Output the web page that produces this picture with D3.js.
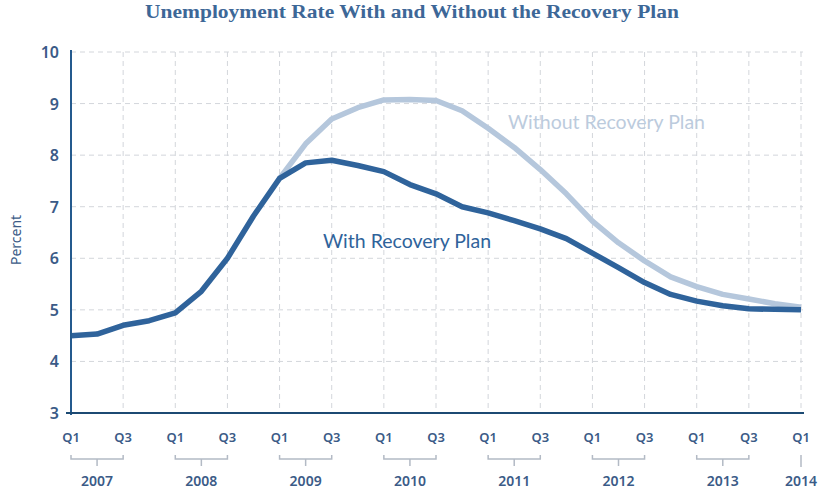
<!DOCTYPE html>
<html>
<head>
<meta charset="utf-8">
<script src="https://cdn.jsdelivr.net/npm/d3@7"></script>
<style>
  body { margin: 0; background: #fff; }
</style>
</head>
<body>
<div id="container-div"></div>
<script>
// quarters from 2007 Q1 to 2014 Q1
var quarters = ["2007Q1","2007Q2","2007Q3","2007Q4","2008Q1","2008Q2","2008Q3","2008Q4",
    "2009Q1","2009Q2","2009Q3","2009Q4","2010Q1","2010Q2","2010Q3","2010Q4",
    "2011Q1","2011Q2","2011Q3","2011Q4","2012Q1","2012Q2","2012Q3","2012Q4",
    "2013Q1","2013Q2","2013Q3","2013Q4","2014Q1"];

var withPlan = [4.5, 4.53, 4.7, 4.79, 4.94, 5.36, 6.0, 6.82,
    7.55, 7.85, 7.9, 7.8, 7.68, 7.43, 7.25, 7.0,
    6.88, 6.73, 6.57, 6.38, 6.1, 5.82, 5.53, 5.3,
    5.17, 5.08, 5.02, 5.01, 5.0];

// starts where the two lines split
var withoutPlan = [null, null, null, null, null, null, null, null,
    7.55, 8.22, 8.7, 8.92, 9.07, 9.08, 9.06, 8.86,
    8.52, 8.15, 7.72, 7.25, 6.72, 6.3, 5.95, 5.64,
    5.45, 5.3, 5.21, 5.12, 5.05];

var yTicks = [3, 4, 5, 6, 7, 8, 9, 10];
var years = ["2007", "2008", "2009", "2010", "2011", "2012", "2013", "2014"];

var darkBlue = "#2f639b";
var lightBlue = "#b5c7dc";
var labelColor = "#3b5b87";

var viz = d3.select("#container-div").append("svg")
    .attr("width", 823)
    .attr("height", 500)
    .attr("id", "viz");

var x = d3.scaleLinear().domain([0, quarters.length - 1]).range([71, 801]);
var y = d3.scaleLinear().domain([3, 10]).range([413, 52]);

// title
viz.append("text")
    .attr("x", 412)
    .attr("y", 18)
    .attr("text-anchor", "middle")
    .attr("font-family", "Liberation Serif, serif")
    .attr("font-weight", "bold")
    .attr("font-size", 19)
    .attr("textLength", 534)
    .attr("lengthAdjust", "spacingAndGlyphs")
    .attr("fill", "#3d6797")
    .text("Unemployment Rate With and Without the Recovery Plan");

// horizontal grid
viz.selectAll("hgrid").data(yTicks.slice(1)).enter()
    .append("line")
    .attr("x1", 71)
    .attr("x2", 803)
    .attr("y1", y)
    .attr("y2", y)
    .attr("stroke", "#d3d6db")
    .attr("stroke-dasharray", "5,4");

// vertical grid, every other quarter
var gridIdx = d3.range(2, quarters.length, 2);
viz.selectAll("vgrid").data(gridIdx).enter()
    .append("line")
    .attr("x1", x)
    .attr("x2", x)
    .attr("y1", 52)
    .attr("y2", 413)
    .attr("stroke", "#d3d6db")
    .attr("stroke-dasharray", "5,4");

// y labels
viz.selectAll("ylab").data(yTicks).enter()
    .append("text")
    .attr("x", 59)
    .attr("y", function(d) { return y(d) + 6; })
    .attr("text-anchor", "end")
    .attr("font-family", "Noto Sans, sans-serif")
    .attr("font-weight", 600)
    .attr("font-size", 16)
    .attr("fill", labelColor)
    .text(function(d) { return d; });

viz.append("text")
    .attr("transform", "translate(21,240) rotate(-90)")
    .attr("text-anchor", "middle")
    .attr("font-family", "Noto Sans, sans-serif")
    .attr("font-size", 14)
    .attr("fill", labelColor)
    .text("Percent");

// lines
var line = d3.line()
    .defined(function(d) { return d != null; })
    .x(function(d, i) { return x(i); })
    .y(function(d) { return y(d); });

viz.append("path")
    .datum(withoutPlan)
    .attr("d", line)
    .attr("fill", "none")
    .attr("stroke", lightBlue)
    .attr("stroke-width", 5.5)
    .attr("stroke-linejoin", "round");

viz.append("path")
    .datum(withPlan)
    .attr("d", line)
    .attr("fill", "none")
    .attr("stroke", darkBlue)
    .attr("stroke-width", 5.5)
    .attr("stroke-linejoin", "round");

// axes
viz.append("line")
    .attr("x1", 71).attr("x2", 71)
    .attr("y1", 50).attr("y2", 415)
    .attr("stroke", "#245a8e")
    .attr("stroke-width", 2);
viz.append("line")
    .attr("x1", 66).attr("x2", 804)
    .attr("y1", 413).attr("y2", 413)
    .attr("stroke", "#1c4a73")
    .attr("stroke-width", 2);

// quarter labels
viz.selectAll("qlab").data(d3.range(0, quarters.length, 2)).enter()
    .append("text")
    .attr("x", x)
    .attr("y", 442)
    .attr("text-anchor", "middle")
    .attr("font-family", "Noto Sans, sans-serif")
    .attr("font-weight", 600)
    .attr("font-size", 13)
    .attr("fill", labelColor)
    .text(function(i) { return quarters[i].slice(4); });

// year brackets
var bracket = viz.selectAll("brk").data(years.slice(0, 7)).enter().append("g")
    .attr("stroke", "#b3bac5")
    .attr("stroke-width", 1.5);
bracket.append("path")
    .attr("fill", "none")
    .attr("d", function(d, i) {
        var a = x(i * 4), b = x(i * 4 + 2);
        return "M" + a + ",455V459H" + b + "V455M" + (a + b) / 2 + ",459V466";
    });
viz.append("line")
    .attr("x1", x(28)).attr("x2", x(28))
    .attr("y1", 455).attr("y2", 467)
    .attr("stroke", "#b3bac5")
    .attr("stroke-width", 1.5);

viz.selectAll("yearlab").data(years).enter()
    .append("text")
    .attr("x", function(d, i) { return i < 7 ? x(i * 4 + 1) : x(28); })
    .attr("y", 486)
    .attr("text-anchor", "middle")
    .attr("font-family", "Noto Sans, sans-serif")
    .attr("font-weight", 600)
    .attr("font-size", 14)
    .attr("fill", labelColor)
    .text(function(d) { return d; });

// series labels
viz.append("text")
    .attr("x", 323)
    .attr("y", 248)
    .attr("font-family", "Lato, sans-serif")
    .attr("font-size", 19.5)
    .attr("fill", darkBlue)
    .text("With Recovery Plan");

viz.append("text")
    .attr("x", 508)
    .attr("y", 129)
    .attr("font-family", "Lato, sans-serif")
    .attr("font-size", 19.5)
    .attr("fill", "#bccbdd")
    .text("Without Recovery Plan");
</script>
</body>
</html>
